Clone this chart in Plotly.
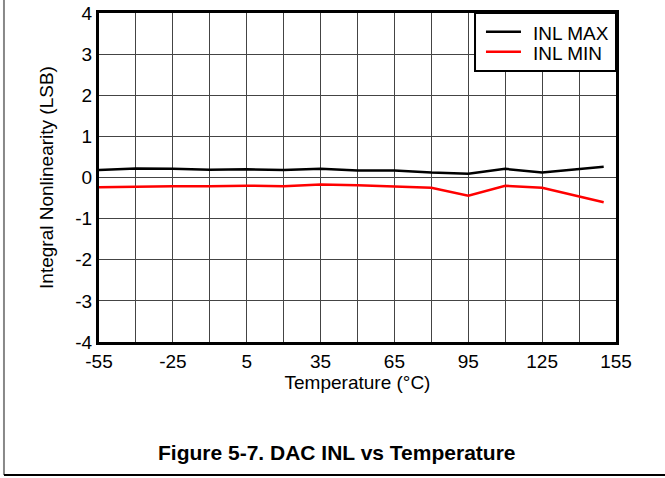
import plotly.graph_objects as go

temps = [-55, -40, -25, -10, 5, 20, 35, 50, 65, 80, 95, 110, 125, 150]
inl_max = [0.18, 0.22, 0.21, 0.19, 0.20, 0.18, 0.21, 0.17, 0.17, 0.12, 0.09, 0.21, 0.12, 0.26]
inl_min = [-0.24, -0.22, -0.21, -0.21, -0.20, -0.21, -0.17, -0.19, -0.22, -0.25, -0.44, -0.20, -0.25, -0.60]
series_names = ["INL MAX", "INL MIN"]
series_colors = ["black", "#ff0000"]

x_tickvals = list(range(-55, 156, 15))
x_ticktext = [str(v) if i % 2 == 0 else "" for i, v in enumerate(x_tickvals)]
y_tickvals = list(range(-4, 5))
y_ticktext = [str(v) for v in y_tickvals]

font = "Liberation Sans, Arial, sans-serif"

fig = go.Figure()
for name, ys, col in zip(series_names, [inl_max, inl_min], series_colors):
    fig.add_trace(go.Scatter(x=temps, y=ys, mode="lines", name=name,
                             line=dict(color=col, width=2.5), showlegend=False))

# legend drawn as a box in paper coordinates (compact like the original)
shapes = [
    dict(type="line", xref="paper", yref="paper",
         x0=-0.1838, x1=-0.1838, y0=-0.404, y1=1.05,
         line=dict(color="#888888", width=2)),
    dict(type="line", xref="paper", yref="paper",
         x0=-0.1838, x1=1.1, y0=-0.404, y1=-0.404,
         line=dict(color="black", width=2)),
    dict(type="rect", xref="paper", yref="paper",
         x0=0.7273, x1=1.0, y0=0.8237, y1=1.0,
         fillcolor="white", line=dict(color="black", width=2), layer="above"),
]
annotations = [
    dict(text="<b>Figure 5-7. DAC INL vs Temperature</b>", xref="paper", yref="paper",
         x=0.459, y=-0.337, xanchor="center", yanchor="middle", showarrow=False,
         font=dict(size=21, family=font)),
]
leg_y = [0.9432, 0.8824]
for name, col, yy in zip(series_names, series_colors, leg_y):
    shapes.append(dict(type="line", xref="paper", yref="paper",
                       x0=0.7485, x1=0.8162, y0=yy, y1=yy,
                       line=dict(color=col, width=2.5), layer="above"))
    annotations.append(dict(text=name, xref="paper", yref="paper",
                            x=0.8356, y=yy - 0.004, xanchor="left", yanchor="middle",
                            showarrow=False, font=dict(size=19, family=font)))

fig.update_layout(
    width=665, height=478,
    margin=dict(l=99, r=49, t=13, b=136, autoexpand=False),
    paper_bgcolor="white", plot_bgcolor="white",
    font=dict(family=font, size=19, color="black"),
    showlegend=False,
    xaxis=dict(range=[-55, 155], tickvals=x_tickvals, ticktext=x_ticktext,
               showgrid=True, gridcolor="#444444", gridwidth=1,
               showline=True, linecolor="black", linewidth=3, mirror=True,
               ticks="", zeroline=False, automargin=False,
               title=dict(text="Temperature (°C)", standoff=3, font=dict(size=19))),
    yaxis=dict(range=[-4, 4], tickvals=y_tickvals, ticktext=y_ticktext,
               showgrid=True, gridcolor="#444444", gridwidth=1,
               showline=True, linecolor="black", linewidth=3, mirror=True,
               ticks="", zeroline=False, automargin=False,
               title=dict(text="Integral Nonlinearity (LSB)", standoff=17, font=dict(size=19))),
    shapes=shapes,
    annotations=annotations,
)

fig.write_html("out.html", config={"displayModeBar": False},
               post_script="document.body.style.margin='0';")
